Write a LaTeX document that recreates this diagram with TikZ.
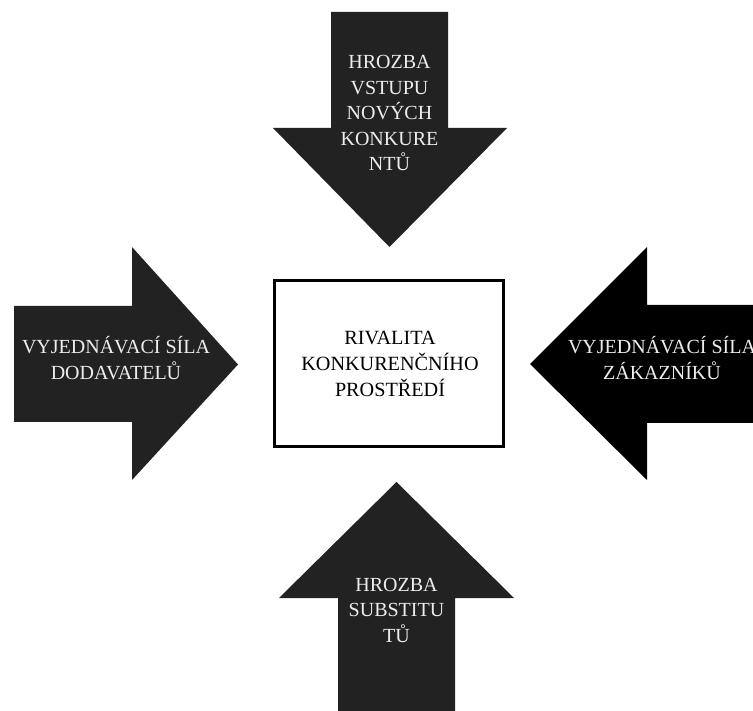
\documentclass[tikz,border=0pt]{standalone}
\usepackage{fontspec}
\setmainfont{Liberation Serif}
\definecolor{arrowgray}{HTML}{222222}
\tikzset{
  forcearrow/.style={fill=arrowgray, draw=none},
  forcetext/.style={text=white!93!black, align=center, font=\fontsize{20}{25.5}\selectfont, inner sep=0pt},
  centerbox/.style={draw=black, line width=3pt, fill=white},
  centertext/.style={text=black, align=center, font=\fontsize{20.2}{26}\selectfont, inner sep=0pt}
}
\begin{document}
\begin{tikzpicture}[x=1pt,y=-1pt]
\useasboundingbox (0,0) rectangle (753,711);
\fill[white] (0,0) rectangle (753,711);
% top arrow
\fill[forcearrow] (331,12) -- (448,12) -- (448,128) -- (507,128) -- (389.5,247) -- (273,128) -- (331,128) -- cycle;
% left arrow
\fill[forcearrow] (14,306) -- (132,306) -- (132,247) -- (238,364.5) -- (132,480) -- (132,422) -- (14,422) -- cycle;
% right arrow
\fill[black] (753,305) -- (647,305) -- (647,247) -- (530,364) -- (647,480) -- (647,423) -- (753,423) -- cycle;
% bottom arrow
\fill[forcearrow] (396.5,482) -- (514,598) -- (455,598) -- (455,711) -- (338,711) -- (338,598) -- (279,598) -- cycle;
% center box
\node[centerbox, minimum width=229pt, minimum height=166pt, inner sep=0pt] (box) at (389,363.5) {};
\node[centertext] (rival) at (390,364) {RIVALITA\\KONKURENČNÍHO\\PROSTŘEDÍ};
\node[forcetext] (top) at (389.5,113) {HROZBA\\VSTUPU\\NOVÝCH\\KONKURE\\NTŮ};
\node[forcetext] (left) at (116,358) {VYJEDNÁVACÍ SÍLA\\DODAVATELŮ};
\node[forcetext] (right) at (662,358) {VYJEDNÁVACÍ SÍLA\\ZÁKAZNÍKŮ};
\node[forcetext] (bottom) at (396.5,610) {HROZBA\\SUBSTITU\\TŮ};
\end{tikzpicture}
\end{document}
